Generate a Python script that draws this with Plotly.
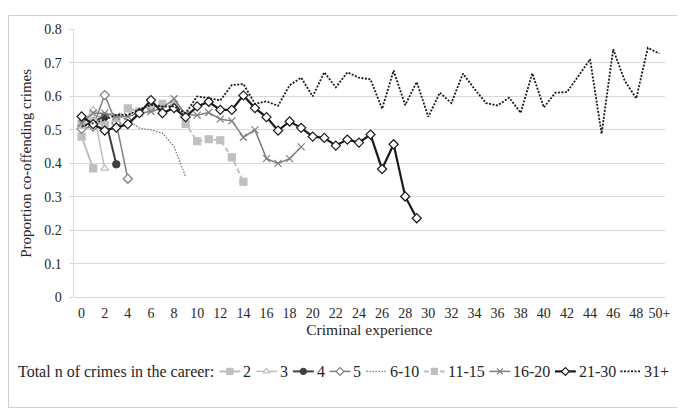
import plotly.graph_objects as go

# ---- data ----
x_ticks = list(range(0, 51, 2))
x_ticktext = [str(v) for v in range(0, 50, 2)] + ["50+"]

s_2 = [0.48, 0.385]
s_3 = [0.52, 0.56, 0.385]
s_4 = [0.51, 0.525, 0.54, 0.397]
s_5 = [0.503, 0.51, 0.604, 0.52, 0.354]
s_6_10 = [0.52, 0.53, 0.55, 0.545, 0.53, 0.505, 0.50, 0.49, 0.45, 0.36]
s_11_15 = [0.515, 0.525, 0.515, 0.535, 0.564, 0.555, 0.565, 0.578, 0.575, 0.518,
           0.466, 0.472, 0.469, 0.418, 0.345]
s_16_20 = [0.52, 0.55, 0.55, 0.54, 0.54, 0.55, 0.555, 0.565, 0.593, 0.546,
           0.544, 0.552, 0.532, 0.527, 0.478, 0.50, 0.414, 0.40, 0.414, 0.449]
s_21_30 = [0.54, 0.517, 0.498, 0.507, 0.517, 0.55, 0.589, 0.55, 0.565, 0.538,
           0.57, 0.584, 0.56, 0.56, 0.603, 0.565, 0.538, 0.498, 0.525, 0.506,
           0.48, 0.476, 0.453, 0.471, 0.462, 0.486, 0.383, 0.457, 0.301, 0.236]
s_31 = [0.51, 0.52, 0.53, 0.545, 0.545, 0.56, 0.575, 0.57, 0.57, 0.55,
        0.60, 0.595, 0.588, 0.634, 0.637, 0.578, 0.585, 0.572, 0.633, 0.656,
        0.60, 0.672, 0.627, 0.672, 0.656, 0.651, 0.563, 0.677, 0.574, 0.643,
        0.539, 0.611, 0.58, 0.668, 0.622, 0.58, 0.573, 0.596, 0.551, 0.669,
        0.567, 0.611, 0.613, 0.661, 0.711, 0.488, 0.741, 0.647, 0.594, 0.745,
        0.728]

FONT = "Liberation Serif, DejaVu Serif, serif"
TXT = "#262626"
LIGHT = "#bfbfbf"
MID = "#7f7f7f"
DARK = "#404040"
BLACK = "#1a1a1a"
GRID = "#d9d9d9"

W, H = 685, 408
# plot area in pixels (left, right, top, bottom)
PL, PR, PT, PB = 66, 662, 15, 293

series = [
    # name, values, color, width, dash, symbol, marker fill
    ("2", s_2, LIGHT, 2, "solid", "square", LIGHT),
    ("3", s_3, LIGHT, 1.5, "solid", "triangle-up", "white"),
    ("4", s_4, DARK, 2, "solid", "circle", DARK),
    ("5", s_5, MID, 1.5, "solid", "diamond", "white"),
    ("6-10", s_6_10, MID, 1.4, "1.5px,1.5px", None, None),
    ("11-15", s_11_15, LIGHT, 2, "5px,3px", "square", LIGHT),
    ("16-20", s_16_20, MID, 1.5, "solid", "x-thin", MID),
    ("21-30", s_21_30, BLACK, 2.2, "solid", "diamond", "white"),
    ("31+", s_31, BLACK, 1.8, "2px,1.5px", None, None),
]

fig = go.Figure()
for name, vals, color, width, dash, symbol, fill in series:
    xs = list(range(len(vals)))
    if symbol is None:
        fig.add_trace(go.Scatter(
            x=xs, y=vals, name=name, mode="lines",
            line=dict(color=color, width=width, dash=dash),
        ))
    else:
        fig.add_trace(go.Scatter(
            x=xs, y=vals, name=name, mode="lines+markers",
            line=dict(color=color, width=width, dash=dash),
            marker=dict(symbol=symbol, size=7, color=fill,
                        line=dict(color=color, width=1.2)),
        ))

# ---- hand-made one-row legend on a full-figure pixel overlay (x2/y2) ----
LEG_Y = 370
LEG_FS = 16
leg_text_x = [237, 274, 311, 348, 385, 443, 509, 575, 641]
leg_text_w = [8, 8, 8, 8, 29, 37, 37, 37, 25]
prev_end = 208  # right end of the legend title
for (name, vals, color, width, dash, symbol, fill), tx, tw in zip(series, leg_text_x, leg_text_w):
    k0, k1 = prev_end + 5, tx - 3
    fig.add_trace(go.Scatter(
        x=[k0, k1], y=[LEG_Y, LEG_Y], mode="lines", xaxis="x2", yaxis="y2",
        line=dict(color=color, width=width, dash=dash),
        showlegend=False, hoverinfo="skip",
    ))
    if symbol is not None:
        fig.add_trace(go.Scatter(
            x=[(k0 + k1) / 2], y=[LEG_Y], mode="markers", xaxis="x2", yaxis="y2",
            marker=dict(symbol=symbol, size=6, color=fill,
                        line=dict(color=color, width=1.2)),
            showlegend=False, hoverinfo="skip",
        ))
    fig.add_annotation(x=tx - 2, y=LEG_Y, xref="x2", yref="y2", text=name,
                       showarrow=False, xanchor="left", yanchor="middle",
                       font=dict(family=FONT, size=LEG_FS, color=TXT))
    prev_end = tx + tw

fig.add_annotation(x=8, y=LEG_Y, xref="x2", yref="y2",
                   text="Total n of crimes in the career:",
                   showarrow=False, xanchor="left", yanchor="middle",
                   font=dict(family=FONT, size=LEG_FS, color=TXT))

# outer light border
fig.add_shape(type="rect", xref="paper", yref="paper",
              x0=0.5 / W, x1=1 - 0.5 / W, y0=0.5 / H, y1=1 - 0.5 / H,
              line=dict(color="#d0d0d0", width=1), layer="below")

fig.update_layout(
    width=W, height=H,
    margin=dict(l=0, r=0, t=0, b=0),
    paper_bgcolor="white", plot_bgcolor="rgba(0,0,0,0)",
    font=dict(family=FONT, size=15, color=TXT),
    showlegend=False,
    xaxis=dict(
        domain=[PL / W, PR / W],
        range=[-0.7, 50.5], tickvals=x_ticks, ticktext=x_ticktext,
        showgrid=False, zeroline=False, showline=False, ticks="",
        ticklabelstandoff=6,
        tickfont=dict(family=FONT, size=14, color=TXT),
        title=dict(text="Criminal experience", standoff=3,
                   font=dict(family=FONT, size=15.5, color=TXT)),
    ),
    yaxis=dict(
        domain=[1 - PB / H, 1 - PT / H],
        range=[0, 0.8], dtick=0.1, tickformat=".1~f",
        showgrid=True, gridcolor=GRID, gridwidth=1,
        zeroline=True, zerolinecolor=GRID, zerolinewidth=1,
        showline=True, linecolor=GRID,
        ticks="outside", ticklen=4, tickcolor=GRID,
        ticklabelstandoff=4,
        tickfont=dict(family=FONT, size=14, color=TXT),
        title=dict(text="Proportion co-offending crimes", standoff=8,
                   font=dict(family=FONT, size=15, color=TXT)),
    ),
    xaxis2=dict(domain=[0, 1], range=[0, W], visible=False, anchor="y2",
                fixedrange=True),
    yaxis2=dict(domain=[0, 1], range=[H, 0], visible=False, anchor="x2",
                fixedrange=True),
)

fig.write_html("out.html")
